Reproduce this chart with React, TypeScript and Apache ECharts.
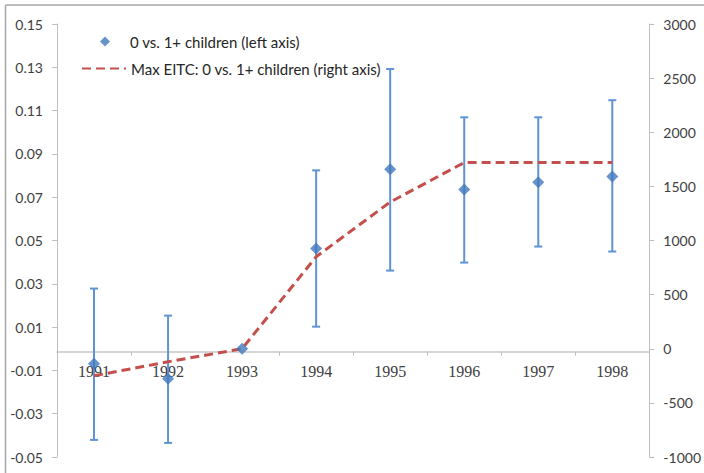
import React, { useEffect, useRef } from "react";
import * as echarts from "echarts";

const years = ["1991", "1992", "1993", "1994", "1995", "1996", "1997", "1998"];
const estimate = [-0.0069, -0.0139, 0, 0.0463, 0.0829, 0.0736, 0.0769, 0.0796];
const ciLow = [-0.0421, -0.0435, null, 0.0102, 0.0361, 0.0398, 0.0472, 0.0449];
const ciHigh = [0.0278, 0.0153, null, 0.0824, 0.1292, 0.1069, 0.1069, 0.1148];
const maxEitc = [-250, -120, 0, 850, 1355, 1720, 1720, 1720];
const leftTicks = [-0.05, -0.03, -0.01, 0.01, 0.03, 0.05, 0.07, 0.09, 0.11, 0.13, 0.15];

const S1 = "0 vs. 1+ children (left axis)";
const S2 = "Max EITC: 0 vs. 1+ children (right axis)";

const BLUE_BAR = "#5F94D2";
const BLUE_PT = "#4178BE";
const RED = "#C4504D";
const AXIS = "#BFBFBF";
const LABEL = "#404040";
const Y_MIN = -0.05;
const Y_MAX = 0.15;

export default function App() {
  const ref = useRef<HTMLDivElement>(null);
  useEffect(() => {
    if (!ref.current) return;
    const chart = echarts.init(ref.current, null, { renderer: "svg" });
    const errData = years.map((_, i) => [i, ciLow[i], ciHigh[i]]);
    chart.setOption({
      animation: false,
      backgroundColor: "#ffffff",
      textStyle: { fontFamily: "Lato" },
      grid: { left: 57, right: 51, top: 24, bottom: 16, containLabel: false },
      graphic: [
        { type: "line", shape: { x1: 5.5, y1: 5, x2: 704, y2: 5 }, style: { stroke: "#A8A8A8", lineWidth: 1.5 }, silent: true },
        { type: "line", shape: { x1: 5.5, y1: 5, x2: 5.5, y2: 473 }, style: { stroke: "#A8A8A8", lineWidth: 1.5 }, silent: true },
      ],
      legend: [
        {
          orient: "vertical",
          left: 100,
          top: 34,
          padding: 0,
          itemWidth: 10,
          itemHeight: 10,
          textStyle: { fontFamily: "Lato", fontSize: 15, color: "#262626", padding: [0, 0, 0, 15] },
          data: [{ name: S1, icon: "diamond" }],
        },
        {
          orient: "vertical",
          left: 81,
          top: 61,
          padding: 0,
          itemWidth: 44,
          itemHeight: 12,
          textStyle: { fontFamily: "Lato", fontSize: 15, color: "#262626" },
          data: [{ name: S2, itemStyle: { color: "transparent", borderColor: "transparent", opacity: 0 } }],
        },
      ],
      xAxis: {
        type: "category",
        data: years,
        boundaryGap: true,
        axisLine: { onZero: false, lineStyle: { color: "#C8C8C8", width: 1.5 } },
        axisTick: { show: true, length: 4, lineStyle: { color: AXIS } },
        axisLabel: { fontFamily: "Liberation Serif", fontSize: 16, color: LABEL, margin: 12 },
        splitLine: { show: false },
      },
      yAxis: [
        {
          type: "value",
          min: Y_MIN,
          max: Y_MAX,
          position: "left",
          axisLine: { show: true, lineStyle: { color: AXIS } },
          axisTick: { show: true, length: 5, customValues: leftTicks, lineStyle: { color: AXIS } },
          axisLabel: {
            customValues: leftTicks,
            fontFamily: "Lato",
            fontSize: 14,
            color: LABEL,
            margin: 14,
            formatter: (v: number) => v.toFixed(2),
          },
          splitLine: { show: false },
        },
        {
          type: "value",
          min: -1000,
          max: 3000,
          interval: 500,
          position: "right",
          axisLine: { show: true, lineStyle: { color: AXIS } },
          axisTick: { show: true, length: 5, lineStyle: { color: AXIS } },
          axisLabel: { fontFamily: "Lato", fontSize: 14, color: LABEL, margin: 14, formatter: (v: number) => String(v) },
          splitLine: { show: false },
        },
      ],
      series: [
        {
          type: "custom",
          name: "errorbars",
          xAxisIndex: 0,
          yAxisIndex: 0,
          data: errData,
          encode: { x: 0, y: [1, 2] },
          z: 2,
          renderItem: (params: any, api: any) => {
            const lo = api.value(1);
            const hi = api.value(2);
            if (lo == null || hi == null || isNaN(lo) || isNaN(hi)) return null;
            const idx = api.value(0);
            const p1 = api.coord([idx, hi]);
            const p2 = api.coord([idx, lo]);
            const hw = 4;
            const st = { stroke: BLUE_BAR, lineWidth: 2 };
            return {
              type: "group",
              children: [
                { type: "line", shape: { x1: p1[0], y1: p1[1], x2: p2[0], y2: p2[1] }, style: st },
                { type: "line", shape: { x1: p1[0] - hw, y1: p1[1], x2: p1[0] + hw, y2: p1[1] }, style: st },
                { type: "line", shape: { x1: p2[0] - hw, y1: p2[1], x2: p2[0] + hw, y2: p2[1] }, style: st },
              ],
            };
          },
        },
        {
          type: "line",
          name: S2,
          yAxisIndex: 1,
          data: maxEitc,
          symbol: "none",
          z: 3,
          lineStyle: { color: RED, width: 3, type: [9, 5] },
          itemStyle: { color: RED },
        },
        {
          type: "scatter",
          name: S1,
          yAxisIndex: 0,
          data: estimate,
          symbol: "diamond",
          symbolSize: 12,
          z: 4,
          itemStyle: { color: BLUE_PT },
        },
      ],
    });
    const zeroY = chart.convertToPixel({ yAxisIndex: 0 }, 0) as number;
    const bottomY = chart.convertToPixel({ yAxisIndex: 0 }, Y_MIN) as number;
    chart.setOption({ xAxis: { offset: -(bottomY - zeroY) } });
    return () => chart.dispose();
  }, []);
  return (
    <div
      ref={ref}
      style={{ position: "fixed", left: 0, top: 0, width: 704, height: 473, background: "#fff" }}
    />
  );
}
